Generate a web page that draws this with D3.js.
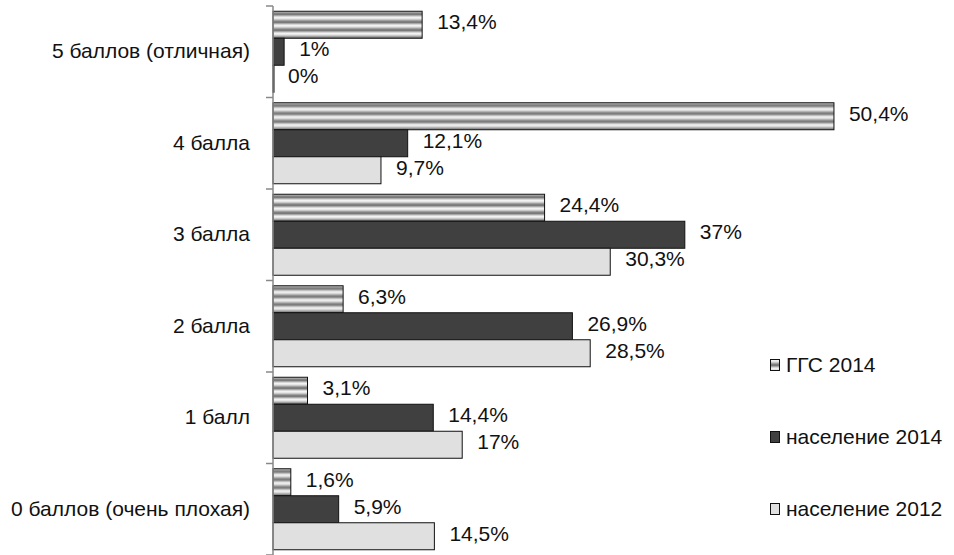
<!DOCTYPE html>
<html>
<head>
<meta charset="utf-8">
<script src="https://cdn.jsdelivr.net/npm/d3@7"></script>
<style>
  body { margin: 0; background: #fff; }
  svg text { font-family: "Liberation Sans", Arial, sans-serif; font-size: 21px; fill: #111; }
</style>
</head>
<body>
<svg id="chart" width="954" height="555"></svg>
<script>
// Data
const categories = ['5 баллов (отличная)', '4 балла', '3 балла', '2 балла', '1 балл', '0 баллов (очень плохая)'];
const seriesNames = ['ГГС 2014', 'население 2014', 'население 2012'];
const ggs2014 = [13.4, 50.4, 24.4, 6.3, 3.1, 1.6];
const pop2014 = [1, 12.1, 37, 26.9, 14.4, 5.9];
const pop2012 = [0, 9.7, 30.3, 28.5, 17, 14.5];

const seriesValues = [ggs2014, pop2014, pop2012];
const fills = ['url(#stripes)', '#404040', '#e0e0e0'];

const svg = d3.select('#chart');

// Striped pattern for the first series
const defs = svg.append('defs');
const pat = defs.append('pattern')
  .attr('id', 'stripes')
  .attr('patternUnits', 'userSpaceOnUse')
  .attr('width', 8)
  .attr('height', 8);
const stripeColors = ['#7a7a7a', '#a8a8a8', '#d6d6d6', '#f2f2f2', '#e6e6e6', '#c8c8c8', '#a0a0a0', '#808080'];
stripeColors.forEach((c, i) => {
  pat.append('rect').attr('x', 0).attr('y', i).attr('width', 8).attr('height', 1).attr('fill', c);
});

// Scales
const x = d3.scaleLinear().domain([0, 60]).range([273, 273 + 60 * 11.13]);
const y = d3.scaleBand().domain(categories).range([6, 555]).padding(0);
const inner = d3.scaleBand().domain(seriesNames).range([5.25, y.bandwidth() - 5.25]).padding(0);

// Bars
const groups = svg.append('g').selectAll('g')
  .data(categories)
  .join('g')
  .attr('transform', d => `translate(0,${y(d)})`);

seriesNames.forEach((name, si) => {
  groups.append('rect')
    .attr('x', x(0))
    .attr('y', inner(name))
    .attr('width', (d, i) => Math.max(1, x(seriesValues[si][i]) - x(0)))
    .attr('height', inner.bandwidth())
    .attr('fill', fills[si])
    .attr('stroke', '#111')
    .attr('stroke-width', 1);

  groups.append('text')
    .attr('x', (d, i) => x(seriesValues[si][i]) + 15)
    .attr('y', inner(name) + inner.bandwidth() / 2 - 2)
    .attr('dy', '0.32em')
    .text((d, i) => String(seriesValues[si][i]).replace('.', ',') + '%');
});

// Category axis
const axis = svg.append('g');
axis.append('line')
  .attr('x1', x(0)).attr('x2', x(0))
  .attr('y1', 6).attr('y2', 555)
  .attr('stroke', '#888').attr('stroke-width', 1.5);
const ticks = categories.map(c => y(c)).concat([y.range()[1]]);
axis.selectAll('line.tick')
  .data(ticks)
  .join('line')
  .attr('class', 'tick')
  .attr('x1', x(0) - 7).attr('x2', x(0))
  .attr('y1', d => d).attr('y2', d => d)
  .attr('stroke', '#888').attr('stroke-width', 1.5);
axis.selectAll('text')
  .data(categories)
  .join('text')
  .attr('x', 250)
  .attr('y', d => y(d) + y.bandwidth() / 2)
  .attr('dy', '0.32em')
  .attr('text-anchor', 'end')
  .text(d => d);

// Legend
const legend = svg.append('g').attr('transform', 'translate(770,365)');
seriesNames.forEach((name, i) => {
  const g = legend.append('g').attr('transform', `translate(0,${i * 72})`);
  g.append('rect')
    .attr('x', 0.5).attr('y', -5.5)
    .attr('width', 9).attr('height', 11)
    .attr('fill', fills[i])
    .attr('stroke', '#111');
  g.append('text')
    .attr('x', 16)
    .attr('y', 0)
    .attr('dy', '0.35em')
    .text(name);
});
</script>
</body>
</html>
